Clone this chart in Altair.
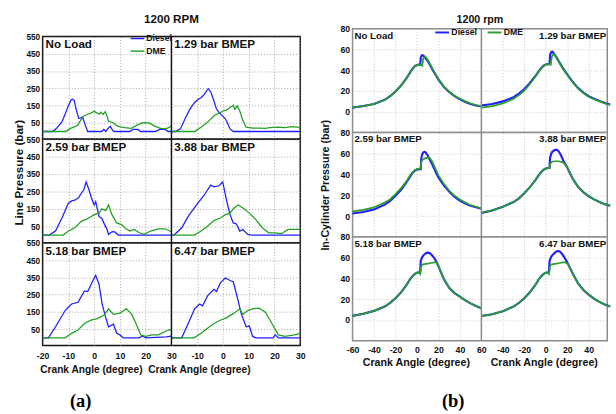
import altair as alt
import pandas as pd

FONT = "Liberation Sans"
BLUE = "#1f1fff"
GREEN_A = "#22a022"
GREEN_B = "#2a9d2a"

# ---------------- (a) Line pressure (bar) vs crank angle ----------------
A_LOADS = ["No Load", "1.29 bar BMEP", "2.59 bar BMEP", "3.88 bar BMEP", "5.18 bar BMEP", "6.47 bar BMEP"]

a0_diesel_x = [-20, -16, -14.5, -12.5, -11, -10, -9, -8.5, -7.75, -7, -6, -5.25, -4.5, -3.5, -2.5, 3, 3.75, 4.5, 5.25, 6.25, 7.25, 7.75, 13.75, 15.25, 17, 18, 23.75, 25.5, 27.5, 28.75, 30]
a0_diesel_y = [0, 0, 20, 55, 110, 150, 183, 187, 180, 130, 76, 78, 84, 40, 0, 0, 12, 0, 15, 30, 5, 0, 0, 12, 12, 0, 0, 12, 12, 0, 0]
a0_dme_x = [-20, -11, -9.5, -8, -6.5, -5, -4, -2.5, -1, 0, 1, 2, 2.5, 3.5, 4.3, 5, 5.6, 6.5, 7.5, 8.5, 9.5, 10.5, 12, 13.5, 14.5, 15.5, 17, 18.5, 20, 21.5, 22.5, 24, 25.5, 27, 28.5, 30]
a0_dme_y = [0, 0, 15, 25, 35, 70, 90, 100, 108, 118, 108, 100, 112, 100, 115, 90, 60, 55, 50, 35, 30, 25, 22, 20, 18, 28, 40, 50, 52, 48, 40, 28, 20, 15, 20, 32]

a1_diesel_x = [-20, -18.5, -16.5, -14.75, -13, -11, -9.75, -8.5, -7.25, -5.75, -4.75, -3.5, -2.5, -1.5, -0.5, 1, 2, 2.75, 4, 30]
a1_diesel_y = [0, 0, 15, 72, 125, 168, 185, 196, 215, 248, 230, 177, 130, 110, 95, 72, 40, 15, 0, 0]
a1_dme_x = [-20, -11, -8.5, -6, -3.5, -1, 0.25, 1.5, 2.75, 4, 4.6, 5.5, 6.5, 7.75, 9, 11.5, 14, 16.5, 18, 21.5, 24, 26.5, 29, 30]
a1_dme_y = [0, 0, 25, 53, 91, 110, 120, 125, 139, 152, 128, 149, 120, 63, 25, 19, 20, 18, 22, 25, 22, 28, 25, 20]

a2_diesel_x = [-20, -17.5, -15, -12.5, -10, -8.75, -7.5, -6, -5, -4, -3.1, -2, -1, 0, 0.6, 1.9, 3, 3.75, 5, 5.6, 7, 8, 9.4, 30]
a2_diesel_y = [0, 0, 23, 98, 183, 196, 200, 215, 240, 260, 305, 260, 211, 173, 192, 107, 95, 70, 32, 4, 20, 18, 0, 0]
a2_dme_x = [-20, -12, -10, -7.5, -5, -2.5, 0, 1.9, 3, 4.4, 5.6, 6.9, 8.75, 10.6, 11.9, 13.75, 15.6, 17.5, 19.4, 21.9, 25, 27.5, 30]
a2_dme_y = [0, 0, 23, 42, 79, 94, 117, 126, 151, 140, 173, 117, 70, 60, 42, 23, 32, 13, 4, 23, 36, 36, 19]

a3_diesel_x = [-20, -19, -16, -13.5, -9.75, -7.25, -4.75, -3.5, -1.6, -0.1, 1.5, 2.75, 4, 5.25, 6.5, 7.75, 9.6, 11, 30]
a3_diesel_y = [0, 0, 42, 107, 183, 230, 287, 277, 283, 305, 192, 117, 70, 64, 23, 32, 4, 0, 0]
a3_dme_x = [-20, -11, -8.5, -6, -3.5, -1, 0.9, 2.75, 4, 5.9, 7.75, 10.25, 12.75, 15.25, 17.75, 20.25, 22.75, 25.25, 30]
a3_dme_y = [0, 0, 23, 51, 83, 98, 117, 126, 151, 173, 155, 126, 89, 42, 13, 13, 8, 32, 32]

a4_diesel_x = [-20, -17.75, -15, -11.25, -8.75, -6.25, -3.75, -2.5, -0.6, 0.6, 1.9, 3.1, 4.4, 5.6, 7.5, 8.75, 10, 11.25, 17.5, 18.75, 20, 28, 30]
a4_diesel_y = [0, 0, 64, 158, 196, 206, 272, 268, 328, 362, 309, 196, 121, 64, 79, 26, 17, 0, 0, 11, 0, 5, 10]
a4_dme_x = [-20, -11.25, -8.75, -6.25, -3.75, -1.25, 1.25, 3.75, 5.6, 7.5, 10, 12.5, 14.4, 16.25, 18.1, 20, 22.5, 25, 28.75, 30]
a4_dme_y = [0, 0, 26, 45, 83, 102, 111, 130, 168, 136, 143, 168, 140, 83, 17, 8, 17, 17, 45, 48]

a5_diesel_x = [-20, -16, -13.5, -11, -9.1, -7.9, -6, -3.5, -2.5, -1, 0.9, 2.75, 4, 5.25, 7.1, 9, 10.25, 11.5, 12.75, 19.5, 20.25, 21.5, 30]
a5_diesel_y = [0, 0, 83, 168, 196, 185, 243, 281, 268, 319, 347, 332, 325, 253, 140, 64, 68, 8, 0, 0, 17, 0, 0]
a5_dme_x = [-20, -11.25, -8.5, -6, -3.5, -1, 1.5, 4, 6.5, 7.75, 9.6, 11.5, 14, 16.5, 19, 21.5, 24, 27.75, 30]
a5_dme_y = [0, 0, 26, 55, 83, 102, 117, 140, 168, 136, 158, 168, 172, 149, 83, 17, 8, 17, 26]

A_TICKS_Y = [50, 150, 250, 350, 450, 550]

# ---------------- (b) In-cylinder pressure (bar) vs crank angle ----------------
B_LOADS = A_LOADS

b0_diesel_x = [-60, -50, -40, -30, -25, -20, -15, -10, -6, -4, -2, 0, 2, 3, 3.6, 4.5, 5.5, 6.5, 8, 10, 12, 14, 16, 18, 20, 25, 30, 35, 40, 45, 50, 55, 60]
b0_diesel_y = [4, 5.5, 7.5, 11.5, 15, 19.5, 25, 32, 38.5, 41.5, 44, 45, 45.5, 45.5, 52.5, 54.5, 54.5, 53.5, 51.5, 49, 45.5, 41.5, 38, 34.5, 31, 24, 19, 15, 12, 9.5, 7.5, 6, 5]
b0_dme_x = [-60, -50, -40, -30, -25, -20, -15, -10, -6, -4, -2, 0, 2, 4, 5, 5.6, 6.5, 7.5, 8.5, 10, 12, 14, 16, 18, 20, 25, 30, 35, 40, 45, 50, 55, 60]
b0_dme_y = [4, 5.5, 7.5, 11.5, 15, 19.5, 25, 32, 38.5, 41.5, 44, 45, 45.5, 45.5, 44.5, 50.5, 52.5, 53, 52.5, 50, 46.5, 42.5, 38.5, 35, 31.5, 24.5, 19.5, 15.5, 12.5, 10, 8, 6.5, 5.5]

b1_diesel_x = [-60, -50, -40, -30, -25, -20, -15, -10, -6, -4, -2, 0, 2, 3.5, 4, 5, 6, 7, 8, 10, 12, 14, 16, 18, 20, 25, 30, 35, 40, 45, 50, 55, 60]
b1_diesel_y = [6, 7.5, 10, 14, 17.5, 22, 27.5, 34, 40, 42.5, 44.5, 45.5, 46, 46, 55, 57.5, 58, 57, 55.5, 52.5, 49, 45.5, 42, 39, 36, 29, 23, 18.5, 15, 12.5, 10.5, 8.5, 7]
b1_dme_x = [-60, -50, -40, -30, -25, -20, -15, -10, -6, -4, -2, 0, 2, 4, 4.6, 5.5, 6.5, 7.5, 8.5, 10, 12, 14, 16, 18, 20, 25, 30, 35, 40, 45, 50, 55, 60]
b1_dme_y = [4, 5.5, 8, 12.5, 16, 20.5, 26.5, 33.5, 39.5, 42, 44.5, 45.5, 46, 46, 45.5, 52.5, 55, 55.5, 54.5, 52, 48.5, 45, 41.5, 38.5, 35.5, 28.5, 22.5, 18, 14.5, 12, 10, 8, 6.5]

b2_diesel_x = [-60, -50, -40, -30, -25, -20, -15, -10, -6, -4, -2, 0, 2, 3.5, 4, 5, 6, 7, 8, 10, 12, 14, 16, 18, 20, 25, 30, 35, 40, 45, 50, 55, 60]
b2_diesel_y = [2.5, 4, 6.5, 11, 14.5, 19.5, 25, 32, 38.5, 41.5, 43.5, 44.5, 45, 45, 55, 59.5, 61, 61.5, 61, 58, 54, 50, 45.5, 41, 37, 29.5, 23.5, 18.5, 15, 12, 10, 8.5, 7]
b2_dme_x = [-60, -50, -40, -30, -25, -20, -15, -10, -6, -4, -2, 0, 2, 3.5, 4, 5, 6, 8, 10, 11, 12, 14, 16, 18, 20, 25, 30, 35, 40, 45, 50, 55, 60]
b2_dme_y = [4.5, 6, 8.5, 13, 16, 21, 26.5, 33, 39.5, 42, 44, 45, 45.5, 45.5, 52, 53.5, 54.5, 55.5, 56, 56, 55.5, 52.5, 48, 43.5, 39, 31, 24.5, 19.5, 16, 13, 10.5, 9, 7.5]

b3_diesel_x = [-60, -50, -40, -30, -25, -20, -15, -10, -6, -4, -2, 0, 2, 3.5, 4, 5, 6, 8, 9.5, 11, 12, 14, 16, 18, 20, 25, 30, 35, 40, 45, 50, 55, 60]
b3_diesel_y = [3, 5.5, 9, 13.5, 17, 22, 27.5, 34, 40, 42.5, 44.5, 45.5, 46, 46, 56, 59.5, 61.5, 63, 63.5, 63, 62, 58.5, 54, 50, 46.5, 36, 28, 23, 19, 16, 13.5, 11.5, 10]
b3_dme_x = [-60, -50, -40, -30, -25, -20, -15, -10, -6, -4, -2, 0, 2, 3.5, 4, 5, 6, 8, 10, 12, 14, 16, 18, 20, 25, 30, 35, 40, 45, 50, 55, 60]
b3_dme_y = [3.5, 5.5, 9, 13.5, 17, 22, 27.5, 34, 40, 42.5, 44.5, 45.5, 46, 46, 49.5, 51.5, 52, 52.5, 52.5, 52.5, 52, 51.5, 49.5, 46.5, 36, 28, 23, 19, 16, 13.5, 11.5, 10]

b4_diesel_x = [-60, -50, -40, -30, -25, -20, -15, -10, -6, -4, -2, 0, 2, 3, 3.5, 5, 7, 9, 10.5, 12, 14, 16, 18, 20, 25, 30, 35, 40, 45, 50, 55, 60]
b4_diesel_y = [4, 6, 8.8, 13, 16.5, 21, 26.5, 33.5, 40, 42.5, 44.5, 45.5, 46, 46, 57, 61, 63.5, 64.8, 65, 64.5, 62.5, 60, 56.5, 52, 39.5, 31, 26, 22.5, 19, 16, 13.5, 11.3]
b4_dme_x = [-60, -50, -40, -30, -25, -20, -15, -10, -6, -4, -2, 0, 2, 3, 4, 5, 7, 10, 13, 16, 18, 20, 25, 30, 35, 40, 45, 50, 55, 60]
b4_dme_y = [4, 6, 8.8, 13, 16.5, 21, 26.5, 33.5, 40, 42.5, 44.5, 45.5, 46, 44.5, 52, 53.5, 54, 54.5, 55, 55.5, 55.5, 52, 39.5, 31, 26, 22.5, 19, 16, 13.5, 11.3]

b5_diesel_x = [-60, -50, -40, -30, -25, -20, -15, -10, -6, -4, -2, 0, 2, 3, 3.5, 5, 7, 9, 11, 12, 13, 15, 17, 19, 21, 25, 30, 35, 40, 45, 50, 55, 60]
b5_diesel_y = [3.8, 5.5, 8.5, 13, 16.5, 21, 26.5, 33.5, 40, 42.5, 44.5, 45.5, 46, 46, 57, 61, 63.5, 65.5, 66.5, 66.5, 66, 64, 61, 57.5, 53.5, 45, 35.5, 29, 24.5, 20.5, 17.5, 15, 13]
b5_dme_x = [-60, -50, -40, -30, -25, -20, -15, -10, -6, -4, -2, 0, 2, 3, 4, 5, 7, 10, 13, 16, 18, 20, 21, 25, 30, 35, 40, 45, 50, 55, 60]
b5_dme_y = [3.8, 5.5, 8.5, 13, 16.5, 21, 26.5, 33.5, 40, 42.5, 44.5, 45.5, 46, 44.5, 52, 53.5, 54, 54.5, 55, 55.5, 55.5, 54.5, 53.5, 45, 35.5, 29, 24.5, 20.5, 17.5, 15, 13]

B_TICKS_Y = [0, 20, 40, 60, 80]

A_SERIES = [
    (0, "Diesel", a0_diesel_x, a0_diesel_y), (0, "DME", a0_dme_x, a0_dme_y),
    (1, "Diesel", a1_diesel_x, a1_diesel_y), (1, "DME", a1_dme_x, a1_dme_y),
    (2, "Diesel", a2_diesel_x, a2_diesel_y), (2, "DME", a2_dme_x, a2_dme_y),
    (3, "Diesel", a3_diesel_x, a3_diesel_y), (3, "DME", a3_dme_x, a3_dme_y),
    (4, "Diesel", a4_diesel_x, a4_diesel_y), (4, "DME", a4_dme_x, a4_dme_y),
    (5, "Diesel", a5_diesel_x, a5_diesel_y), (5, "DME", a5_dme_x, a5_dme_y),
]
B_SERIES = [
    (0, "Diesel", b0_diesel_x, b0_diesel_y), (0, "DME", b0_dme_x, b0_dme_y),
    (1, "Diesel", b1_diesel_x, b1_diesel_y), (1, "DME", b1_dme_x, b1_dme_y),
    (2, "Diesel", b2_diesel_x, b2_diesel_y), (2, "DME", b2_dme_x, b2_dme_y),
    (3, "Diesel", b3_diesel_x, b3_diesel_y), (3, "DME", b3_dme_x, b3_dme_y),
    (4, "Diesel", b4_diesel_x, b4_diesel_y), (4, "DME", b4_dme_x, b4_dme_y),
    (5, "Diesel", b5_diesel_x, b5_diesel_y), (5, "DME", b5_dme_x, b5_dme_y),
]


def build_table(series, loads, span):
    rows = []
    for k, fuel, xs, ys in series:
        r, c = divmod(k, 2)
        for x, y in zip(xs, ys):
            rows.append({"kind": "line", "r": r, "c": c, "lab": loads[k], "fuel": fuel,
                         "xs": x + c * span, "y": y})
    for k, lab in enumerate(loads):
        r, c = divmod(k, 2)
        rows.append({"kind": "label", "r": r, "c": c, "lab": lab, "fuel": "", "xs": 0, "y": 0})
    return pd.DataFrame(rows)


def row_chart(df, i, P):
    lo, span, hi = P["lo"], P["span"], P["hi"]
    bottom = i == 2
    no_overlap = {"expr": "false"}
    xaxis = alt.Axis(values=[v for v in range(lo, int(hi) + 1, P["xstep"])],
                     labelExpr=f"datum.value > {lo + span} ? '' + (datum.value - {span}) : '' + datum.value",
                     labels=bottom, title=P["xtitle"] if bottom else None,
                     titleX=P["xtitle_x"], titleAnchor="start", titleAlign="left",
                     titleFontSize=P["xtitle_size"], titleFontWeight="bold", titleFont=FONT,
                     titleColor="#111", titlePadding=P["xtitle_pad"], labelFontSize=9,
                     labelFontWeight="bold", labelColor="#111", labelFont=FONT, ticks=False,
                     domain=False, labelPadding=P["xlab_pad"], grid=True, gridColor=P["grid"],
                     gridDash=[1, 2], gridWidth=0.8, labelOverlap=no_overlap, labelFlush=False,
                     labelSeparation=0)
    ykw = {"titleY": P["ytitle_y"]} if (i == 1 and P["ytitle_y"] is not None) else {}
    yaxis = alt.Axis(values=P["yticks"], title=P["ytitle"] if i == 1 else None,
                     titleFontSize=P["ytitle_size"], titleFontWeight="bold", titleFont=FONT,
                     titleColor="#111", titlePadding=P["ytitle_pad"],
                     labelFontSize=P["ylab_size"], labelFontWeight="bold", labelColor="#111",
                     labelFont=FONT, ticks=False, domain=False, labelPadding=3, grid=True,
                     gridColor=P["grid"], gridDash=[1, 2], gridWidth=0.8, labelOverlap=no_overlap,
                     labelFlush=False, labelSeparation=0, minExtent=P["yext"],
                     maxExtent=P["yext"], **ykw)
    xscale = alt.Scale(domain=[lo, hi], nice=False, zero=False)
    yscale = alt.Scale(domain=P["ydom"], nice=False, zero=False)
    xenc = alt.X("xs:Q", scale=xscale, axis=xaxis)
    yenc = alt.Y("y:Q", scale=yscale, axis=yaxis)
    cenc = alt.Color("fuel:N", scale=alt.Scale(domain=["Diesel", "DME"], range=[BLUE, P["green"]]),
                     legend=P["legend"] if i == 0 else None)
    base = alt.Chart(df[df["r"] == i])
    ld = base.transform_filter("datum.kind == 'line' && datum.fuel == 'Diesel'").mark_line(
        strokeWidth=P["lw"][0]).encode(x=xenc, y=yenc, color=cenc, detail="lab:N")
    lm = base.transform_filter("datum.kind == 'line' && datum.fuel == 'DME'").mark_line(
        strokeWidth=P["lw"][1]).encode(x=xenc, y=yenc, color=cenc, detail="lab:N")
    div = base.transform_filter("datum.kind == 'label' && datum.c == 0").mark_rule(
        color=P["frame"], strokeWidth=1.5).encode(
        x=alt.X(datum=lo + span, scale=xscale, axis=xaxis))
    tl = base.transform_filter("datum.kind == 'label' && datum.c == 0").mark_text(
        align="left", baseline="top", dx=P["ldx"], dy=P["ldx"], fontSize=P["lab_size"],
        fontWeight="bold", font=FONT, color="#111").encode(
        x=alt.X(datum=lo, scale=xscale, axis=xaxis),
        y=alt.Y(datum=P["ydom"][1], scale=yscale, axis=yaxis), text="lab:N")
    if P["right_align"] == "left":
        tr = base.transform_filter("datum.kind == 'label' && datum.c == 1").mark_text(
            align="left", baseline="top", dx=P["ldx"], dy=P["ldx"], fontSize=P["lab_size"],
            fontWeight="bold", font=FONT, color="#111").encode(
            x=alt.X(datum=lo + span, scale=xscale, axis=xaxis),
            y=alt.Y(datum=P["ydom"][1], scale=yscale, axis=yaxis), text="lab:N")
    else:
        tr = base.transform_filter("datum.kind == 'label' && datum.c == 1").mark_text(
            align="right", baseline="top", dx=-1, dy=P["ldx"], fontSize=P["lab_size"],
            fontWeight="bold", font=FONT, color="#111").encode(
            x=alt.X(datum=hi, scale=xscale, axis=xaxis),
            y=alt.Y(datum=P["ydom"][1], scale=yscale, axis=yaxis), text="lab:N")
    return alt.layer(ld, lm, div, tl, tr).properties(
        width=P["width"], height=P["heights"][i],
        view=alt.ViewBackground(stroke=P["frame"], strokeWidth=1.5, fill="white"))


def spacer(width, height, title):
    return alt.Chart(pd.DataFrame({"v": [0]})).mark_point(opacity=0, size=0).encode(
        x=alt.X("v:Q", axis=None), y=alt.Y("v:Q", axis=None)
    ).properties(width=width, height=height, view=alt.ViewBackground(stroke=None), title=title)


df_a = build_table(A_SERIES, A_LOADS, 50)
df_b = build_table(B_SERIES, B_LOADS, 120)

leg_a = alt.Legend(title=None, orient="none", legendX=90, legendY=-6, direction="vertical",
                   symbolType="stroke", symbolStrokeWidth=1.5, symbolSize=200,
                   labelFontSize=9, labelFontWeight="bold", labelFont=FONT, labelColor="#111",
                   rowPadding=0, padding=0, labelOffset=1)
leg_b = alt.Legend(title=None, orient="none", legendX=84, legendY=-5, direction="horizontal",
                   symbolType="stroke", symbolStrokeWidth=2, symbolSize=200,
                   labelFontSize=9, labelFontWeight="bold", labelFont=FONT, labelColor="#111",
                   columnPadding=6, padding=0, labelOffset=1)

NB = "\u00a0"
PA = dict(lo=-20, span=50, hi=80, width=266, heights=[106, 107, 106], ydom=[-45, 550],
          yticks=A_TICKS_Y, xstep=10, grid="#8c8c8c", frame="#111111", green=GREEN_A,
          ytitle="Line Pressure (bar)", ytitle_size=12, ytitle_pad=1, ytitle_y=34, yext=17,
          ylab_size=8.5, xtitle="Crank Angle (degree)" + NB + " Crank Angle (degree)",
          xtitle_x=-3, xtitle_size=10.5, xtitle_pad=5, xlab_pad=6, legend=leg_a,
          lw=(1.3, 1.3), lab_size=12, right_align="left", ldx=3)
PB = dict(lo=-60, span=120, hi=177.3, width=263, heights=[107, 108, 107], ydom=[-20, 80],
          yticks=B_TICKS_Y, xstep=20, grid="#bdbdbd", frame="#8a8a8a", green=GREEN_B,
          ytitle="In-Cylinder Pressure (bar)", ytitle_size=11, ytitle_pad=4, ytitle_y=None, yext=19,
          ylab_size=9, xtitle="Crank Angle (degree)" + NB * 6 + " Crank Angle (degree)",
          xtitle_x=10, xtitle_size=11, xtitle_pad=3, xlab_pad=5, legend=leg_b,
          lw=(2.2, 1.8), lab_size=10, right_align="right", ldx=2)

title_a = alt.Title("1200 RPM", fontSize=12, fontWeight="bold", font=FONT, color="#111",
                    offset=-7.5, baseline="alphabetic", anchor="middle")
title_b = alt.Title("1200 rpm", fontSize=11, fontWeight="bold", font=FONT, color="#111",
                    offset=-6.5, baseline="alphabetic", anchor="middle")

left = alt.vconcat(spacer(266, 10, title_a), *[row_chart(df_a, i, PA) for i in range(3)],
                   spacing=0, bounds="flush",
                   title=alt.Title("(a)", orient="bottom", anchor="start", dx=60,
                                   font="Liberation Serif", fontSize=19, fontWeight="bold",
                                   color="#000", offset=17)).resolve_scale(color="independent")
right = alt.vconcat(spacer(263, 2, title_b), *[row_chart(df_b, i, PB) for i in range(3)],
                    spacing=0, bounds="flush",
                    title=alt.Title("(b)", orient="bottom", anchor="start", dx=127,
                                    font="Liberation Serif", fontSize=19, fontWeight="bold",
                                    color="#000", offset=25)).resolve_scale(color="independent")

chart = alt.hconcat(left, right, spacing=13,
                    padding={"left": 12, "top": 6, "right": 0, "bottom": 0},
                    background="white").resolve_scale(color="independent").configure(
    font=FONT).configure_axis(labelOverlap=False, labelFlush=False)

chart.save("out.html", embed_options={"renderer": "svg", "actions": False})
